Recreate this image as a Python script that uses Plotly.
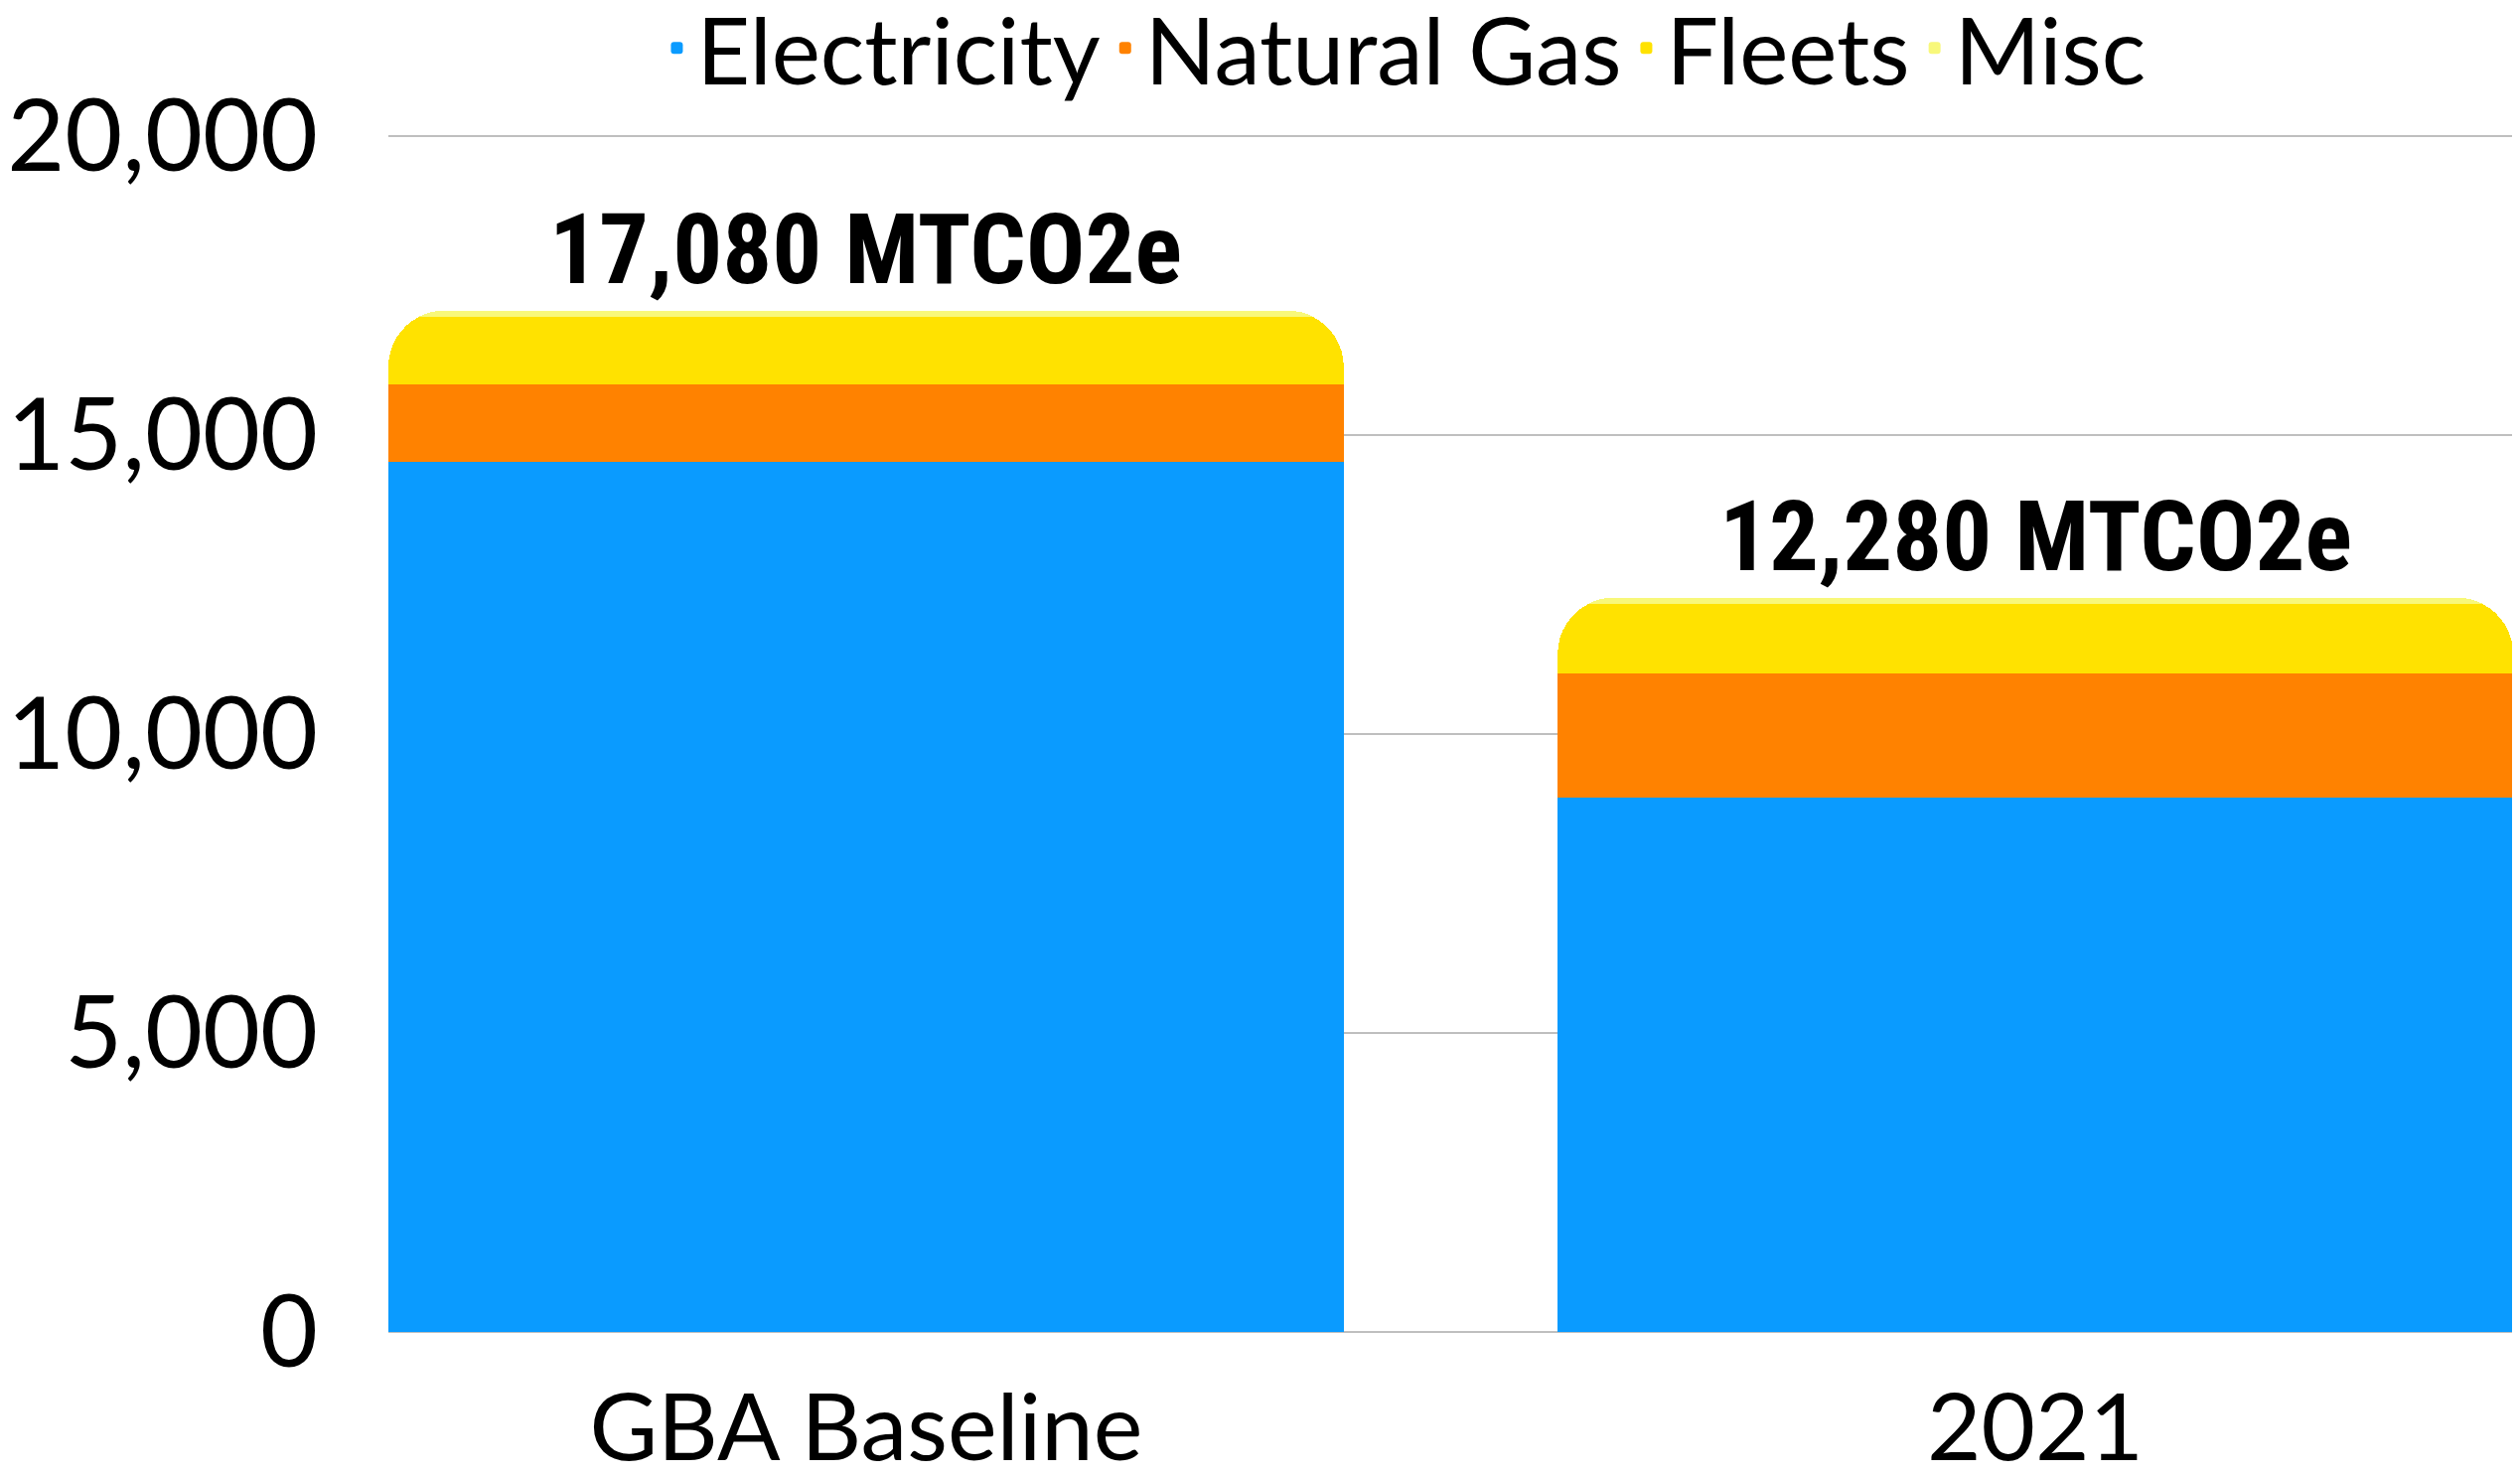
import plotly.graph_objects as go

categories = ["GBA Baseline", "2021"]
electricity = [14560, 8930]
natural_gas = [1290, 2085]
fleets = [1125, 1160]
misc = [105, 105]
totals_labels = ["17,080 MTCO2e", "12,280 MTCO2e"]
y_ticks = [0, 5000, 10000, 15000, 20000]
y_tick_text = ["0", "5,000", "10,000", "15,000", "20,000"]

series = [
    ("Electricity", electricity, "rgb(10,155,255)"),
    ("Natural Gas", natural_gas, "rgb(255,130,0)"),
    ("Fleets", fleets, "rgb(255,226,0)"),
    ("Misc", misc, "rgb(248,248,122)"),
]

fig = go.Figure()
for name, vals, col in series:
    fig.add_trace(go.Bar(
        x=categories, y=vals, name=name,
        marker=dict(color=col, line=dict(width=0)),
        width=0.817,
    ))

totals = [sum(v) for v in zip(electricity, natural_gas, fleets, misc)]
for i, (tot, lab) in enumerate(zip(totals, totals_labels)):
    fig.add_annotation(
        x=i, y=tot, text="<b>" + lab + "</b>", showarrow=False,
        xref="x", yref="y",
        yanchor="bottom", yshift=2,
        font=dict(family="Roboto Condensed, Roboto, sans-serif",
                  size=99, color="black"),
    )

x_font = dict(family="Lato, Open Sans, sans-serif", size=94, color="black")
y_font = dict(family="Lato, Open Sans, sans-serif", size=100, color="black")

# page body has an 8px margin; figure is sized to fit inside the window
fig.update_layout(
    width=2529, height=1478,
    barmode="stack",
    barcornerradius=56,
    plot_bgcolor="white", paper_bgcolor="white",
    margin=dict(l=383, r=7, t=126, b=145, autoexpand=False),
    showlegend=True,
    legend=dict(
        orientation="h", x=0.478, xanchor="center", xref="paper",
        y=1.071, yref="paper", yanchor="middle",
        font=dict(family="Lato, Open Sans, sans-serif", size=93, color="black"),
        traceorder="normal", itemwidth=30,
    ),
    xaxis=dict(
        type="category",
        range=[-0.4085, 1.4085], showline=False, showgrid=False,
        tickfont=x_font, ticks="", ticklabelstandoff=34, automargin=False,
    ),
    yaxis=dict(
        range=[0, 20050], tickvals=y_ticks, ticktext=y_tick_text,
        showgrid=True, gridcolor="#BFBFBF", gridwidth=2,
        zeroline=True, zerolinecolor="#BFBFBF", zerolinewidth=2,
        showline=False, tickfont=y_font, ticklabelstandoff=70, automargin=False,
    ),
)

fig.write_html("out.html")
